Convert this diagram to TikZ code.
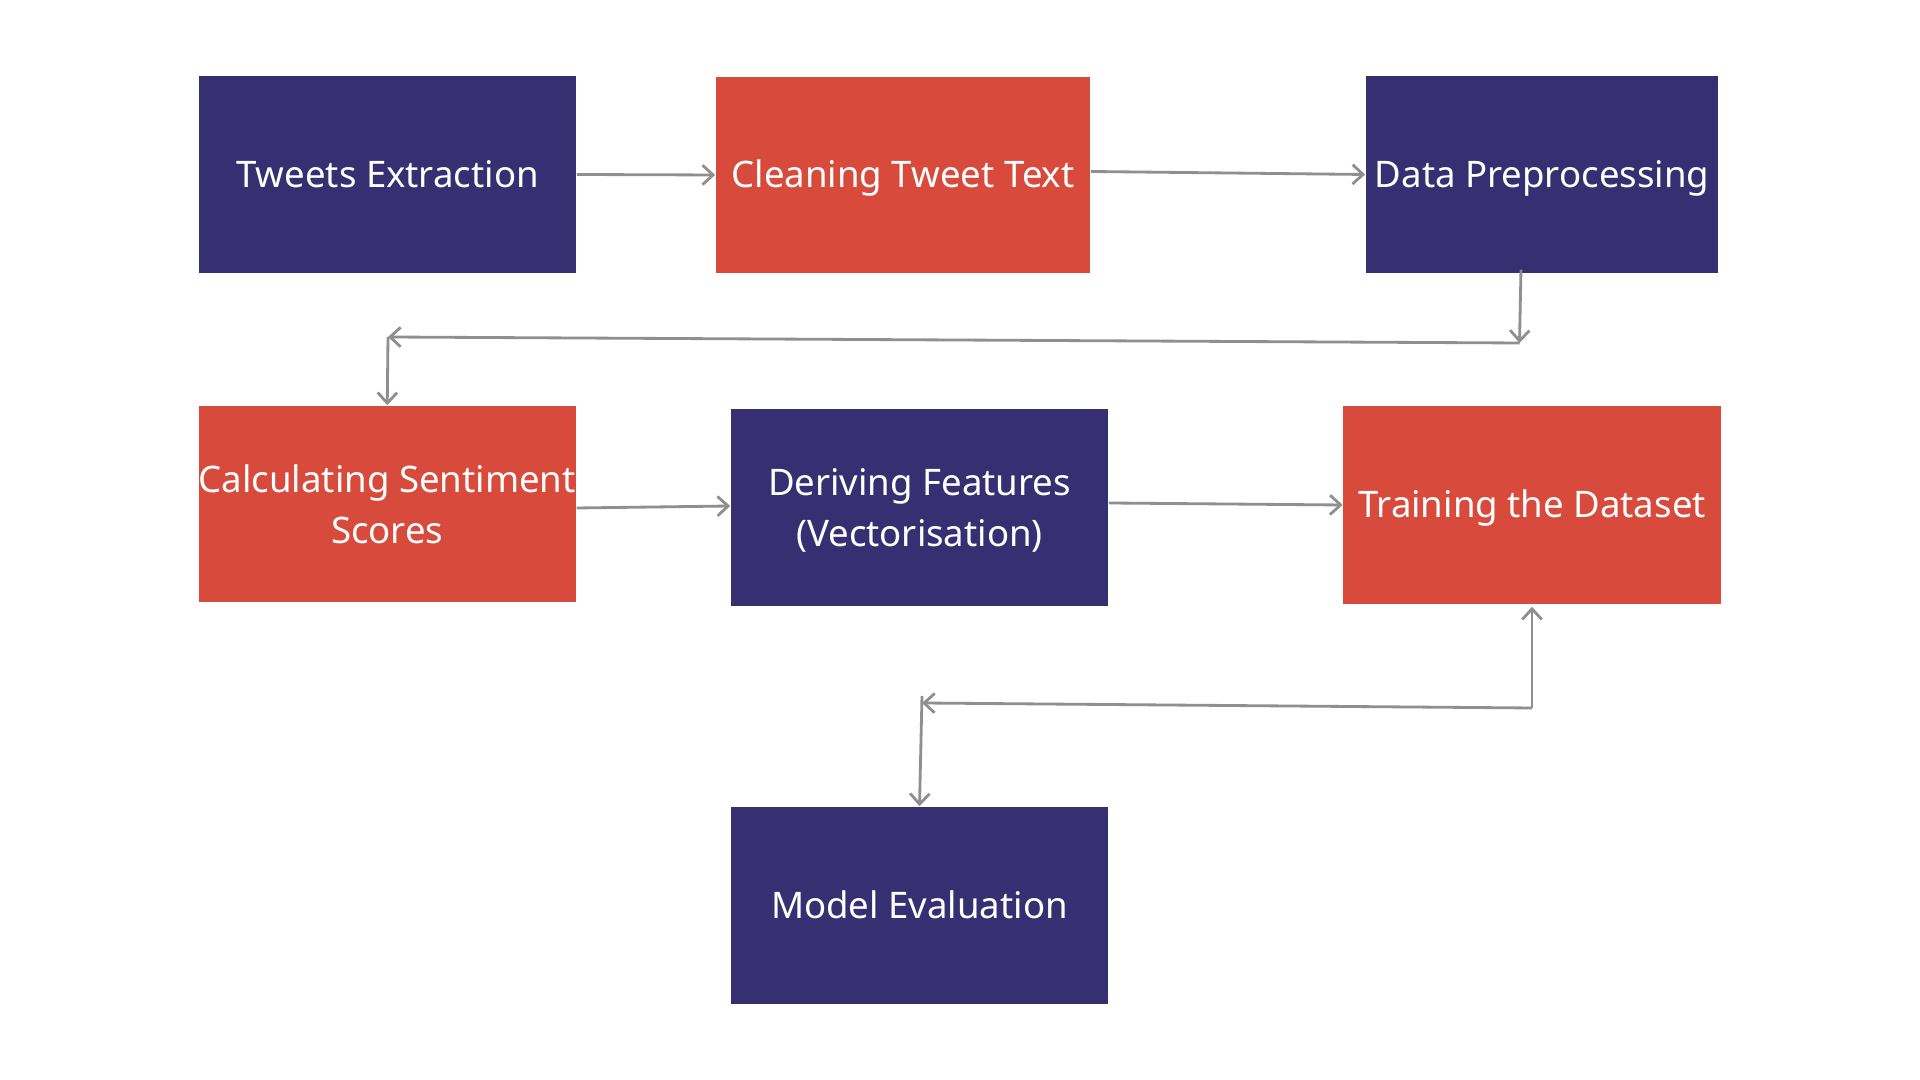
\documentclass[tikz,border=0pt]{standalone}
\usepackage{fontspec}
\setmainfont{Noto Sans}
\usetikzlibrary{arrows.meta}
\definecolor{navy}{HTML}{363072}
\definecolor{brick}{HTML}{D84A3B}
\definecolor{linegray}{HTML}{8F8F8F}
\newcommand{\boxline}[1]{\makebox[0pt][c]{\strut\raisebox{-1pt}{#1}}}
\begin{document}
\begin{tikzpicture}[x=0.01cm,y=-0.01cm,
  box/.style={rectangle, inner sep=0pt, text=white, align=center,
    font=\fontsize{10.4}{14.6}\selectfont},
  oneline/.style={text height=0.95em, text depth=0.236em},
  navybox/.style={box, fill=navy},
  redbox/.style={box, fill=brick},
  conn/.style={draw=linegray, line width=0.8pt, -{Straight Barb[length=3pt,width=5.5pt]}}]
\useasboundingbox (0,0) rectangle (1920,1080);
\fill[white] (0,0) rectangle (1920,1080);

\node[navybox, oneline, minimum width=3.77cm, minimum height=1.97cm] (te) at (387.5,174.5) {Tweets Extraction};
\node[redbox, oneline, minimum width=3.74cm, minimum height=1.96cm] (ct) at (903,175) {Cleaning Tweet Text};
\node[navybox, oneline, minimum width=3.52cm, minimum height=1.97cm] (dp) at (1542,174.5) {Data Preprocessing};
\node[redbox, minimum width=3.77cm, minimum height=1.96cm] (cs) at (387.25,504) {\boxline{Calculating Sentiment}\\\boxline{Scores}};
\node[navybox, minimum width=3.77cm, minimum height=1.97cm] (df) at (919.5,507.5) {\boxline{Deriving Features}\\\boxline{(Vectorisation)}};
\node[redbox, oneline, minimum width=3.77cm, minimum height=1.98cm] (tr) at (1532,505) {Training the Dataset};
\node[navybox, oneline, minimum width=3.77cm, minimum height=1.97cm] (me) at (919.5,905.5) {Model Evaluation};

\coordinate (k1) at (1519.5,343);
\coordinate (k2) at (388,337);
\coordinate (k3) at (1532,708);
\coordinate (k4) at (922,703);

\draw[conn] (te.east) -- (ct.west);
\draw[conn] ([yshift=0.035cm]ct.east) -- (dp.west);
\draw[conn] ([xshift=-0.21cm,yshift=0.04cm]dp.south) -- (k1);
\draw[conn] (k1) -- (k2);
\draw[conn] (k2) -- (cs.north);
\draw[conn] ([yshift=-0.04cm]cs.east) -- ([yshift=0.015cm]df.west);
\draw[conn] ([yshift=0.045cm]df.east) -- (tr.west);
\draw[conn] (k3) -- ([yshift=-0.02cm]tr.south);
\draw[conn] (k3) -- (k4);
\draw[conn] ([yshift=0.07cm]k4) -- (me.north);
\end{tikzpicture}
\end{document}
